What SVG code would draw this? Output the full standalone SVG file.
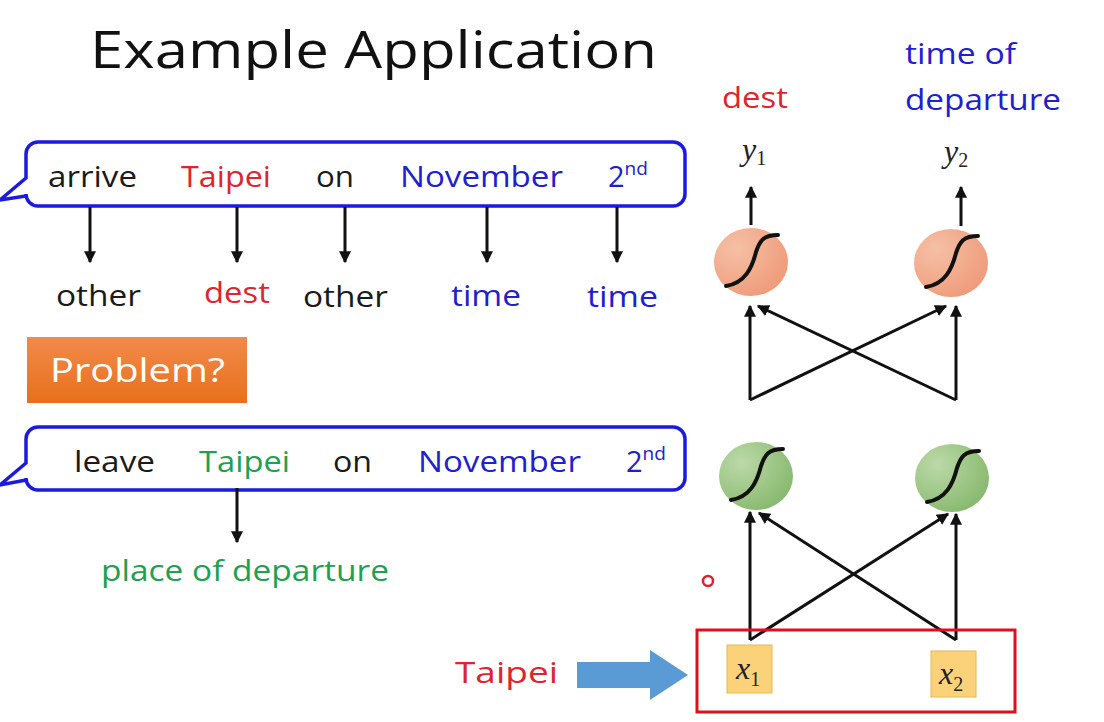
<svg xmlns="http://www.w3.org/2000/svg" width="1104" height="722" viewBox="0 0 1104 722">
<style>
.t{font-family:"Open Sans","Liberation Sans",sans-serif;font-size:29px}
.k{fill:#1a1a1a}.r{fill:#e0242e}.b{fill:#2020d0}.g{fill:#20a050}
.m{font-family:"Liberation Serif",serif;font-style:italic;font-size:32px;fill:#222}
.s{font-family:"Liberation Serif",serif;font-size:20px;fill:#222;font-style:normal}
.ln{stroke:#111;stroke-width:3;fill:none}
.bub{fill:#fff;stroke:#1a1ae0;stroke-width:3.5}
.sig{fill:none;stroke:#111;stroke-width:4;stroke-linecap:round}
</style>
<defs>
<marker id="ah" viewBox="0 0 10 10" refX="9" refY="5" markerWidth="4" markerHeight="4" orient="auto"><path d="M0,0L10,5L0,10z" fill="#111"/></marker>
<linearGradient id="og" x1="0" y1="0" x2="0" y2="1"><stop offset="0" stop-color="#f28a4a"/><stop offset="1" stop-color="#e8701c"/></linearGradient>
<radialGradient id="oc" cx="0.3" cy="0.3" r="0.8"><stop offset="0" stop-color="#f5c0a6"/><stop offset="1" stop-color="#ef9a78"/></radialGradient>
<radialGradient id="gc" cx="0.3" cy="0.3" r="0.8"><stop offset="0" stop-color="#bcd9a8"/><stop offset="1" stop-color="#86b86c"/></radialGradient>
</defs>
<rect width="1104" height="722" fill="#fff"/>
<text x="90" y="68" font-family="Open Sans,Liberation Sans,sans-serif" font-size="52" fill="#111" textLength="567" lengthAdjust="spacingAndGlyphs">Example Application</text>
<g id="bubble1">
<path class="bub" d="M38,142H673a12,12 0 0 1 12,12V194a12,12 0 0 1-12,12H38a12,12 0 0 1-12-12V196L0,200L26,178V154a12,12 0 0 1 12-12z"/>
<text class="t k" x="48" y="187" textLength="89" lengthAdjust="spacingAndGlyphs">arrive</text><text class="t r" x="181" y="187" textLength="90" lengthAdjust="spacingAndGlyphs">Taipei</text><text class="t k" x="316" y="187" textLength="38" lengthAdjust="spacingAndGlyphs">on</text><text class="t b" x="400" y="187" textLength="163" lengthAdjust="spacingAndGlyphs">November</text><text class="t b" x="608" y="187">2<tspan font-size="19" dy="-12">nd</tspan></text>
</g>
<g id="labels1">
<text class="t k" x="56" y="306" textLength="85" lengthAdjust="spacingAndGlyphs">other</text><text class="t r" x="204" y="303" textLength="66" lengthAdjust="spacingAndGlyphs">dest</text><text class="t k" x="303" y="307" textLength="85" lengthAdjust="spacingAndGlyphs">other</text><text class="t b" x="451" y="306" textLength="70" lengthAdjust="spacingAndGlyphs">time</text><text class="t b" x="587" y="307" textLength="71" lengthAdjust="spacingAndGlyphs">time</text>
</g>
<g id="problem"><rect x="27" y="337" width="220" height="66" fill="url(#og)"/><text x="50" y="382" font-family="Open Sans,Liberation Sans,sans-serif" font-size="32" fill="#fff" textLength="175" lengthAdjust="spacingAndGlyphs">Problem?</text></g>
<g id="bubble2">
<path class="bub" d="M38,427H673a12,12 0 0 1 12,12V478a12,12 0 0 1-12,12H38a12,12 0 0 1-12-12V480L0,485L26,463V439a12,12 0 0 1 12-12z"/>
<text class="t k" x="74" y="472" textLength="81" lengthAdjust="spacingAndGlyphs">leave</text><text class="t g" x="199" y="472" textLength="91" lengthAdjust="spacingAndGlyphs">Taipei</text><text class="t k" x="333" y="472" textLength="39" lengthAdjust="spacingAndGlyphs">on</text><text class="t b" x="418" y="472" textLength="163" lengthAdjust="spacingAndGlyphs">November</text><text class="t b" x="626" y="472">2<tspan font-size="19" dy="-12">nd</tspan></text>
</g>
<text class="t g" x="101" y="581" textLength="288" lengthAdjust="spacingAndGlyphs">place of departure</text>
<text class="t r" x="722" y="108" textLength="66" lengthAdjust="spacingAndGlyphs">dest</text>
<text class="t b" x="905" y="64" textLength="111" lengthAdjust="spacingAndGlyphs">time of</text><text class="t b" x="905" y="110" textLength="156" lengthAdjust="spacingAndGlyphs">departure</text>
<text class="m" x="742" y="160">y<tspan class="s" dy="5">1</tspan></text>
<text class="m" x="944" y="162">y<tspan class="s" dy="5">2</tspan></text>
<g id="connectors" class="ln">
<path marker-end="url(#ah)" d="M90,207V262"/><path marker-end="url(#ah)" d="M237,207V262"/><path marker-end="url(#ah)" d="M345,207V262"/><path marker-end="url(#ah)" d="M487,207V262"/><path marker-end="url(#ah)" d="M617,207V262"/><path marker-end="url(#ah)" d="M237,488V542"/>
<path marker-end="url(#ah)" d="M751,225V187"/><path marker-end="url(#ah)" d="M961,226V187"/>
<path marker-end="url(#ah)" d="M750,400V306"/><path marker-end="url(#ah)" d="M750,400L946,306"/><path marker-end="url(#ah)" d="M956,400V306"/><path marker-end="url(#ah)" d="M956,400L758,306"/>
<path marker-end="url(#ah)" d="M750,640V512"/><path marker-end="url(#ah)" d="M750,640L948,514"/><path marker-end="url(#ah)" d="M956,640V514"/><path marker-end="url(#ah)" d="M956,640L759,513"/>
</g>
<g id="o1"><ellipse cx="751" cy="262" rx="37" ry="34" fill="url(#oc)"/><path class="sig" d="M726,286C745,283 752,268 756,252C760,240 764,235 778,235"/></g>
<g id="o2"><ellipse cx="951" cy="263" rx="37" ry="34" fill="url(#oc)"/><path class="sig" d="M926,287C945,284 952,269 956,253C960,241 964,236 978,236"/></g>
<g id="h1"><ellipse cx="756" cy="476" rx="37" ry="34" fill="url(#gc)"/><path class="sig" d="M731,500C750,497 757,482 761,466C765,454 769,449 783,449"/></g>
<g id="h2"><ellipse cx="952" cy="478" rx="37" ry="34" fill="url(#gc)"/><path class="sig" d="M927,502C946,499 953,484 957,468C961,456 965,451 979,451"/></g>
<g id="input">
<rect x="697" y="630" width="318" height="82" fill="none" stroke="#e0101a" stroke-width="3"/>
<rect x="727" y="645" width="45" height="48" fill="#fbd27a" stroke="#e8b850"/><text class="m" x="736" y="679">x<tspan class="s" dy="7">1</tspan></text>
<rect x="931" y="651" width="45" height="46" fill="#fbd27a" stroke="#e8b850"/><text class="m" x="939" y="684">x<tspan class="s" dy="7">2</tspan></text>
</g>
<text class="t r" x="455" y="683" textLength="103" lengthAdjust="spacingAndGlyphs">Taipei</text>
<path d="M577,662H650V650L688,675L650,700V688H577z" fill="#5b9bd5"/>
<circle cx="708" cy="581" r="5" fill="none" stroke="#e02030" stroke-width="2.5"/>
</svg>
